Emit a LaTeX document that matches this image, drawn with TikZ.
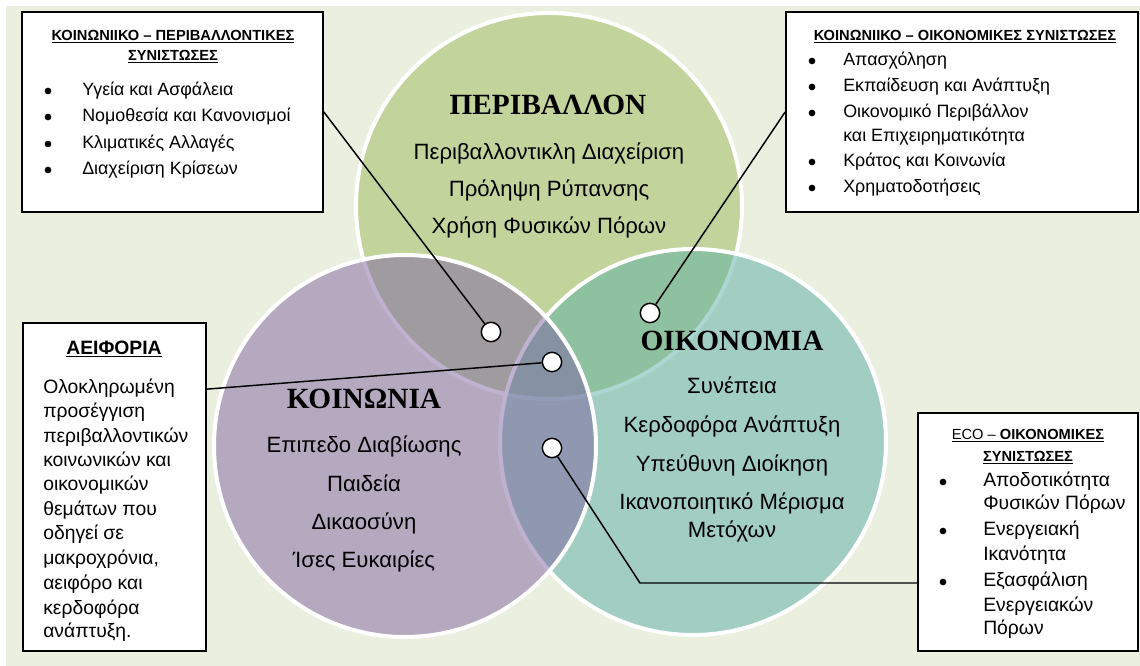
\documentclass[tikz,border=0pt]{standalone}
\usepackage{fontspec}
\setmainfont{Liberation Sans}
\newfontfamily\titlefont{Liberation Serif}
\usetikzlibrary{positioning}

\definecolor{bgcol}{RGB}{235,239,224}
\definecolor{envcol}{RGB}{155,187,89}
\definecolor{ecocol}{RGB}{91,175,164}
\definecolor{soccol}{RGB}{128,100,162}

\tikzset{
  venn/.style={circle, draw=white, line width=3pt, fill opacity=0.5, inner sep=0pt, minimum size=289.5pt},
  spot/.style={circle, draw, fill=white, line width=1.1pt, minimum size=14.5pt, inner sep=0pt},
  infobox/.style={draw, fill=white, line width=1.3pt, inner sep=0pt},
  link/.style={line width=1.1pt},
  circtitle/.style={font=\titlefont\bfseries\fontsize{22}{26}\selectfont, inner sep=0pt, text height=1.5ex, text depth=.25ex},
  circtext/.style={font=\fontsize{16.6}{19}\selectfont, inner sep=0pt, text height=1.5ex, text depth=.25ex},
  boxhead/.style={font=\bfseries\fontsize{11}{13}\selectfont, inner sep=0pt, text height=1.5ex, text depth=.25ex},
  listitem/.style={anchor=west, font=\fontsize{13.4}{15}\selectfont, inner sep=0pt, text height=1.5ex, text depth=.25ex},
  bul/.style={circle, fill=black, minimum size=5pt, inner sep=0pt}
}

\begin{document}
\begin{tikzpicture}[x=0.75pt, y=-0.75pt]
\useasboundingbox (0,0) rectangle (1140,666);
\fill[bgcol] (6,6) rectangle (1140,666);

% the three circles
\node[venn, fill=envcol] (env) at (549,206) {};
\node[venn, fill=ecocol] (eco) at (693,442) {};
\node[venn, fill=soccol, minimum size=286.5pt] (soc) at (405,446) {};

\node[circtitle] (envtitle) at (548,110) {ΠΕΡΙΒΑΛΛΟΝ};
\foreach \t/\y [count=\i] in {Περιβαλλοντικλη Διαχείριση/155, Πρόληψη Ρύπανσης/192, Χρήση Φυσικών Πόρων/229}
  \node[circtext] (envt\i) at (549,\y) {\t};

\node[circtitle] (ecotitle) at (732,346) {ΟΙΚΟΝΟΜΙΑ};
\foreach \t/\y [count=\i] in {Συνέπεια/389, Κερδοφόρα Ανάπτυξη/428, Υπεύθυνη Διοίκηση/467, Ικανοποιητικό Μέρισμα/505, Μετόχων/533}
  \node[circtext] (ecot\i) at (732,\y) {\t};

\node[circtitle] (soctitle) at (364,404) {ΚΟΙΝΩΝΙΑ};
\foreach \t/\y [count=\i] in {Επιπεδο Διαβίωσης/448, Παιδεία/487, Δικαοσύνη/525, Ίσες Ευκαιρίες/563}
  \node[circtext] (soct\i) at (364,\y) {\t};

% boxes
\node[infobox, minimum width=225.75pt, minimum height=150pt] (envbox) at (172.5,112) {};
\node[infobox, minimum width=264pt, minimum height=150pt] (ecobox) at (962,112) {};
\node[infobox, minimum width=137.25pt, minimum height=246pt] (susbox) at (114.5,487) {};
\node[infobox, minimum width=165pt, minimum height=178.5pt] (resbox) at (1028,532) {};

% connection points
\node[spot] (d1) at (491,332) {};
\node[spot] (d2) at (552,362) {};
\node[spot] (d3) at (552,448) {};
\node[spot] (d4) at (650,313) {};
\coordinate (bend) at (640,583);

\draw[link] (d1) -- (envbox.east);
\draw[link] (d4) -- (ecobox.west);
\draw[link] (d2) -- ([yshift=-50.25pt]susbox.north east);
\draw[link] (d3) -- (bend) -- (bend -| resbox.west);

% box: social - environmental
\node[boxhead] (envh1) at (173,36) {\underline{ΚΟΙΝΩΝΙΙΚΟ – ΠΕΡΙΒΑΛΛΟΝΤΙΚΕΣ}};
\node[boxhead] (envh2) at (173,56) {\underline{ΣΥΝΙΣΤΩΣΕΣ}};
\foreach \t/\y [count=\i] in {Υγεία και Ασφάλεια/91, Νομοθεσία και Κανονισμοί/117, Κλιματικές Αλλαγές/144, Διαχείριση Κρίσεων/170} {
  \node[bul] (envb\i) at (48,\y) {};
  \node[listitem] (envl\i) at (82,\y) {\t};
}

% box: social - economic
\node[boxhead] (ecoh) at (965,36) {\underline{ΚΟΙΝΩΝΙΙΚΟ – ΟΙΚΟΝΟΜΙΚΕΣ ΣΥΝΙΣΤΩΣΕΣ}};
\foreach \y [count=\i] in {61,87,113,162,188}
  \node[bul] (ecob\i) at (812,\y) {};
\foreach \t/\y [count=\i] in {Απασχόληση/61, Εκπαίδευση και Ανάπτυξη/87, Οικονομικό Περιβάλλον/113, και Επιχειρηματικότητα/137, Κράτος και Κοινωνία/162, Χρηματοδοτήσεις/188}
  \node[listitem] (ecol\i) at (843,\y) {\t};

% box: sustainability
\node[boxhead, font=\bfseries\fontsize{14.5}{17}\selectfont] (sush) at (114,350) {\underline{ΑΕΙΦΟΡΙΑ}};
\foreach \y/\t [count=\i] in {389/Ολοκληρωμένη, 413/προσέγγιση, 438/περιβαλλοντικών, 462/κοινωνικών και, 486/οικονομικών, 511/θεμάτων που, 535/οδηγεί σε, 560/{μακροχρόνια,}, 585/αειφόρο και, 610/κερδοφόρα, 633/ανάπτυξη.}
  \node[listitem, font=\fontsize{14.5}{17}\selectfont] (susl\i) at (43,\y) {\t};

% box: eco - economic
\node[boxhead] (resh1) at (1028,435) {\underline{\mdseries ECO – \bfseries ΟΙΚΟΝΟΜΙΚΕΣ}};
\node[boxhead] (resh2) at (1028,457) {\underline{ΣΥΝΙΣΤΩΣΕΣ}};
\foreach \y [count=\i] in {482,531,582}
  \node[bul] (resb\i) at (943,\y) {};
\foreach \t/\y [count=\i] in {Αποδοτικότητα/482, Φυσικών Πόρων/505, Ενεργειακή/531, Ικανότητα/556, Εξασφάλιση/582, Ενεργειακών/607, Πόρων/630}
  \node[listitem, font=\fontsize{14.5}{17}\selectfont] (resl\i) at (983,\y) {\t};
\end{tikzpicture}
\end{document}
